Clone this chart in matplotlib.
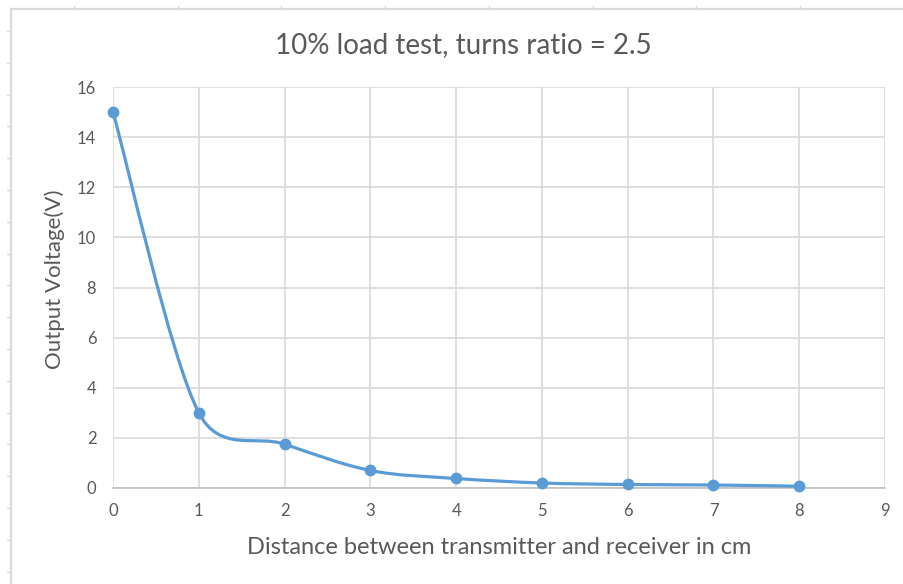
import numpy as np
import matplotlib
matplotlib.use("Agg")
import matplotlib.pyplot as plt
from matplotlib.path import Path
from matplotlib.patches import PathPatch
from matplotlib.lines import Line2D

# Measured output voltage against coil separation
distance_cm = [0, 1, 2, 3, 4, 5, 6, 7, 8]
output_voltage = [15.0, 3.0, 1.75, 0.7, 0.38, 0.2, 0.14, 0.12, 0.07]

x_ticks = [0, 1, 2, 3, 4, 5, 6, 7, 8, 9]
y_ticks = [0, 2, 4, 6, 8, 10, 12, 14, 16]

title_text = "10% load test, turns ratio = 2.5"
x_label = "Distance between transmitter and receiver in cm"
y_label = "Output Voltage(V)"

LINE_BLUE = "#5B9BD5"
GRID = "#D9D9D9"
TEXT = "#595959"
FONT = "Lato"

plt.rcParams["font.family"] = [FONT, "DejaVu Sans"]

W, H = 904, 584
fig = plt.figure(figsize=(W / 100, H / 100), dpi=100)
fig.patch.set_facecolor("white")

# chart-area frame and sheet ruler marks
frame_color = "#DADADA"
fig.add_artist(Line2D([11 / W, 11 / W], [0, 1 - 9 / H], transform=fig.transFigure,
                      color=frame_color, lw=1.6))
fig.add_artist(Line2D([11 / W, 1], [1 - 9 / H, 1 - 9 / H], transform=fig.transFigure,
                      color=frame_color, lw=1.6))
for px in np.arange(74, W, 103.7):
    fig.add_artist(Line2D([px / W, px / W], [1 - 6 / H, 1 - 9 / H], transform=fig.transFigure,
                          color=frame_color, lw=1.0))
for py in np.arange(31, H, 31.8):
    fig.add_artist(Line2D([7 / W, 11 / W], [1 - py / H, 1 - py / H], transform=fig.transFigure,
                          color=frame_color, lw=1.0))

left, right, top, bottom = 113, 885, 87, 488
ax = fig.add_axes([left / W, 1 - bottom / H, (right - left) / W, (bottom - top) / H])
ax.set_xlim(0, 9)
ax.set_ylim(0, 16)
ax.set_xticks(x_ticks)
ax.set_yticks(y_ticks)
ax.grid(True, color=GRID, lw=1.2)
ax.set_axisbelow(True)
for side in ("top", "right", "left"):
    ax.spines[side].set_visible(False)
ax.spines["bottom"].set_color("#BFBFBF")
ax.spines["bottom"].set_linewidth(1.2)
ax.tick_params(length=0, labelsize=12, labelcolor=TEXT)
ax.tick_params(axis="x", pad=11)
ax.tick_params(axis="y", pad=12)

# Smoothed line: cubic Bezier segments with arm lengths limited to half the segment
disp = ax.transData.transform(np.column_stack([distance_cm, output_voltage]))
n = len(disp)
verts = [disp[0]]
codes = [Path.MOVETO]
for i in range(n - 1):
    p0 = disp[i - 1] if i > 0 else disp[i]
    p1 = disp[i]
    p2 = disp[i + 1]
    p3 = disp[i + 2] if i + 2 < n else disp[i + 1]
    d02 = np.hypot(*(p2 - p0))
    d12 = np.hypot(*(p2 - p1))
    d13 = np.hypot(*(p3 - p1))
    f0 = 1 / 6
    f1 = 1 / 6
    if d02 > 0 and d02 / 6 >= d12 / 2:
        f0 = d12 / d02 / 2
    if d13 > 0 and d13 / 6 >= d12 / 2:
        f1 = d12 / d13 / 2
    c1 = p1 + (p2 - p0) * f0
    c2 = p2 - (p3 - p1) * f1
    verts += [c1, c2, p2]
    codes += [Path.CURVE4] * 3
data_verts = ax.transData.inverted().transform(np.array(verts))
curve = PathPatch(Path(data_verts, codes), facecolor="none", edgecolor=LINE_BLUE,
                  lw=2.3, capstyle="round", joinstyle="round", zorder=3)
ax.add_patch(curve)
ax.plot(distance_cm, output_voltage, linestyle="none", marker="o", markersize=7.5,
        color=LINE_BLUE, zorder=4, clip_on=False)

fig.text(463 / W, 1 - 45 / H, title_text, ha="center", va="center",
         fontsize=20, color=TEXT)
fig.text(499 / W, 1 - 547 / H, x_label, ha="center", va="center",
         fontsize=17, color=TEXT)
fig.text(55 / W, 1 - 279 / H, y_label, ha="center", va="center",
         rotation=90, fontsize=16, color=TEXT)

fig.savefig("out.png", dpi=100, facecolor="white")
